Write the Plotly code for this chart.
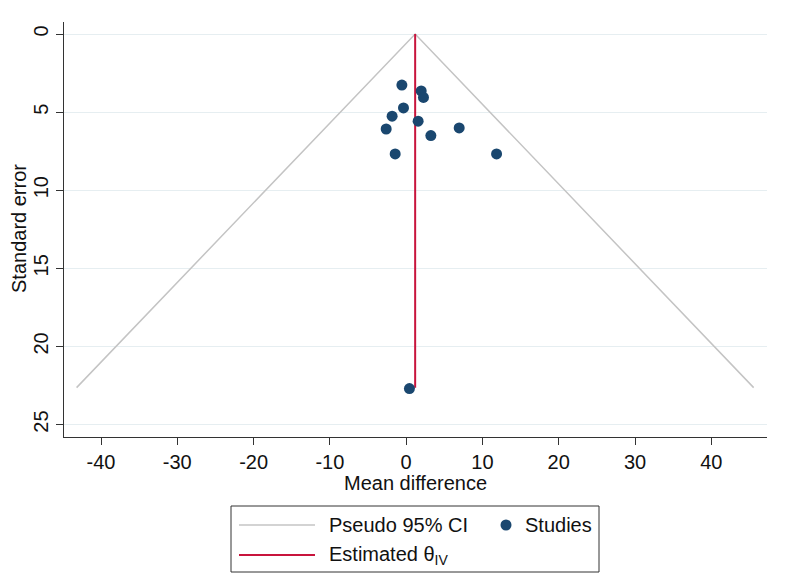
import plotly.graph_objects as go

# ---- data ----
study_md = [-0.56, 1.97, 2.27, -0.35, -1.84, 1.57, -2.62, 3.24, 6.95, -1.44, 11.85, 0.43]
study_se = [3.27, 3.64, 4.06, 4.73, 5.26, 5.58, 6.08, 6.50, 6.01, 7.68, 7.68, 22.70]

theta_iv = 1.18
se_max = 22.64
ci_x = [-43.2, 1.18, 45.55]
ci_y = [22.64, 0.0, 22.64]

x_ticks = [-40, -30, -20, -10, 0, 10, 20, 30, 40]
x_tick_text = ["-40", "-30", "-20", "-10", "0", "10", "20", "30", "40"]
y_ticks = [0, 5, 10, 15, 20, 25]

x_title = "Mean difference"
y_title = "Standard error"

# ---- styling ----
OFF = 8  # page body margin
W, H = 786 - OFF, 585 - OFF
L, R, T, B = 64 - OFF, 767 - OFF, 22 - OFF, 437 - OFF
FONT = "Liberation Sans, Arial, sans-serif"
NAVY = "#1a476f"
RED = "#c8143c"
GRAY = "#c4c4c4"
AX = "#333333"
GRID = "#e6eef1"
TXT = "#111111"


def px(x):
    return (x - OFF - L) / (R - L)


def py(y):
    return (B - (y - OFF)) / (B - T)


fig = go.Figure()
fig.add_trace(go.Scatter(x=ci_x, y=ci_y, mode="lines",
                         line=dict(color=GRAY, width=1.5),
                         name="Pseudo 95% CI", hoverinfo="skip"))
fig.add_trace(go.Scatter(x=[theta_iv, theta_iv], y=[0, se_max], mode="lines",
                         line=dict(color=RED, width=2),
                         name="Estimated θ<sub>IV</sub>"))
fig.add_trace(go.Scatter(x=study_md, y=study_se, mode="markers",
                         marker=dict(color=NAVY, size=11),
                         name="Studies"))

fig.update_layout(
    width=W, height=H,
    margin=dict(l=L, r=W - R, t=T, b=H - B, autoexpand=False),
    paper_bgcolor="white", plot_bgcolor="white",
    font=dict(family=FONT, size=20, color=TXT),
    showlegend=False,
)
fig.update_xaxes(range=[-44.85, 47.3], tickvals=x_ticks, ticktext=x_tick_text,
                 automargin=False,
                 showgrid=False, zeroline=False,
                 showline=True, linecolor=AX, linewidth=1,
                 ticks="outside", ticklen=7, tickcolor=AX)
fig.update_yaxes(range=[25.8, -0.77], tickvals=y_ticks,
                 automargin=False,
                 showgrid=True, gridcolor=GRID, gridwidth=1,
                 zeroline=False, tickangle=-90,
                 showline=True, linecolor=AX, linewidth=1,
                 ticks="outside", ticklen=7, tickcolor=AX)

# axis titles placed as in the reference
fig.add_annotation(text=x_title, x=px(415), y=py(483), xref="paper", yref="paper",
                   xanchor="center", yanchor="middle", showarrow=False,
                   font=dict(family=FONT, size=20, color=TXT))
fig.add_annotation(text=y_title, x=px(19), y=py(229), xref="paper", yref="paper",
                   xanchor="center", yanchor="middle", showarrow=False, textangle=-90,
                   font=dict(family=FONT, size=20, color=TXT))

# ---- legend box (drawn to match the reference's Stata-style legend) ----
box_l, box_r, box_t, box_b = 231, 599, 506, 572
row1, row2 = 525, 555
fig.add_shape(type="rect", xref="paper", yref="paper",
              x0=px(box_l), x1=px(box_r), y0=py(box_b), y1=py(box_t),
              line=dict(color=AX, width=1), fillcolor="white", layer="above")
fig.add_shape(type="line", xref="paper", yref="paper",
              x0=px(239), x1=px(315), y0=py(row1), y1=py(row1),
              line=dict(color=GRAY, width=1.5))
fig.add_shape(type="line", xref="paper", yref="paper",
              x0=px(239), x1=px(315), y0=py(row2), y1=py(row2),
              line=dict(color=RED, width=2))
fig.add_shape(type="circle", xref="paper", yref="paper",
              x0=px(506 - 5.5), x1=px(506 + 5.5), y0=py(row1 + 5.5), y1=py(row1 - 5.5),
              line=dict(color=NAVY, width=0), fillcolor=NAVY)
for txt, x, y in [("Pseudo 95% CI", 327, row1), ("Studies", 523, row1),
                  ("Estimated θ<sub>IV</sub>", 327, row2)]:
    fig.add_annotation(text=txt, x=px(x), y=py(y), xref="paper", yref="paper",
                       xanchor="left", yanchor="middle", showarrow=False,
                       font=dict(family=FONT, size=20, color=TXT))

fig.write_html("out.html")
